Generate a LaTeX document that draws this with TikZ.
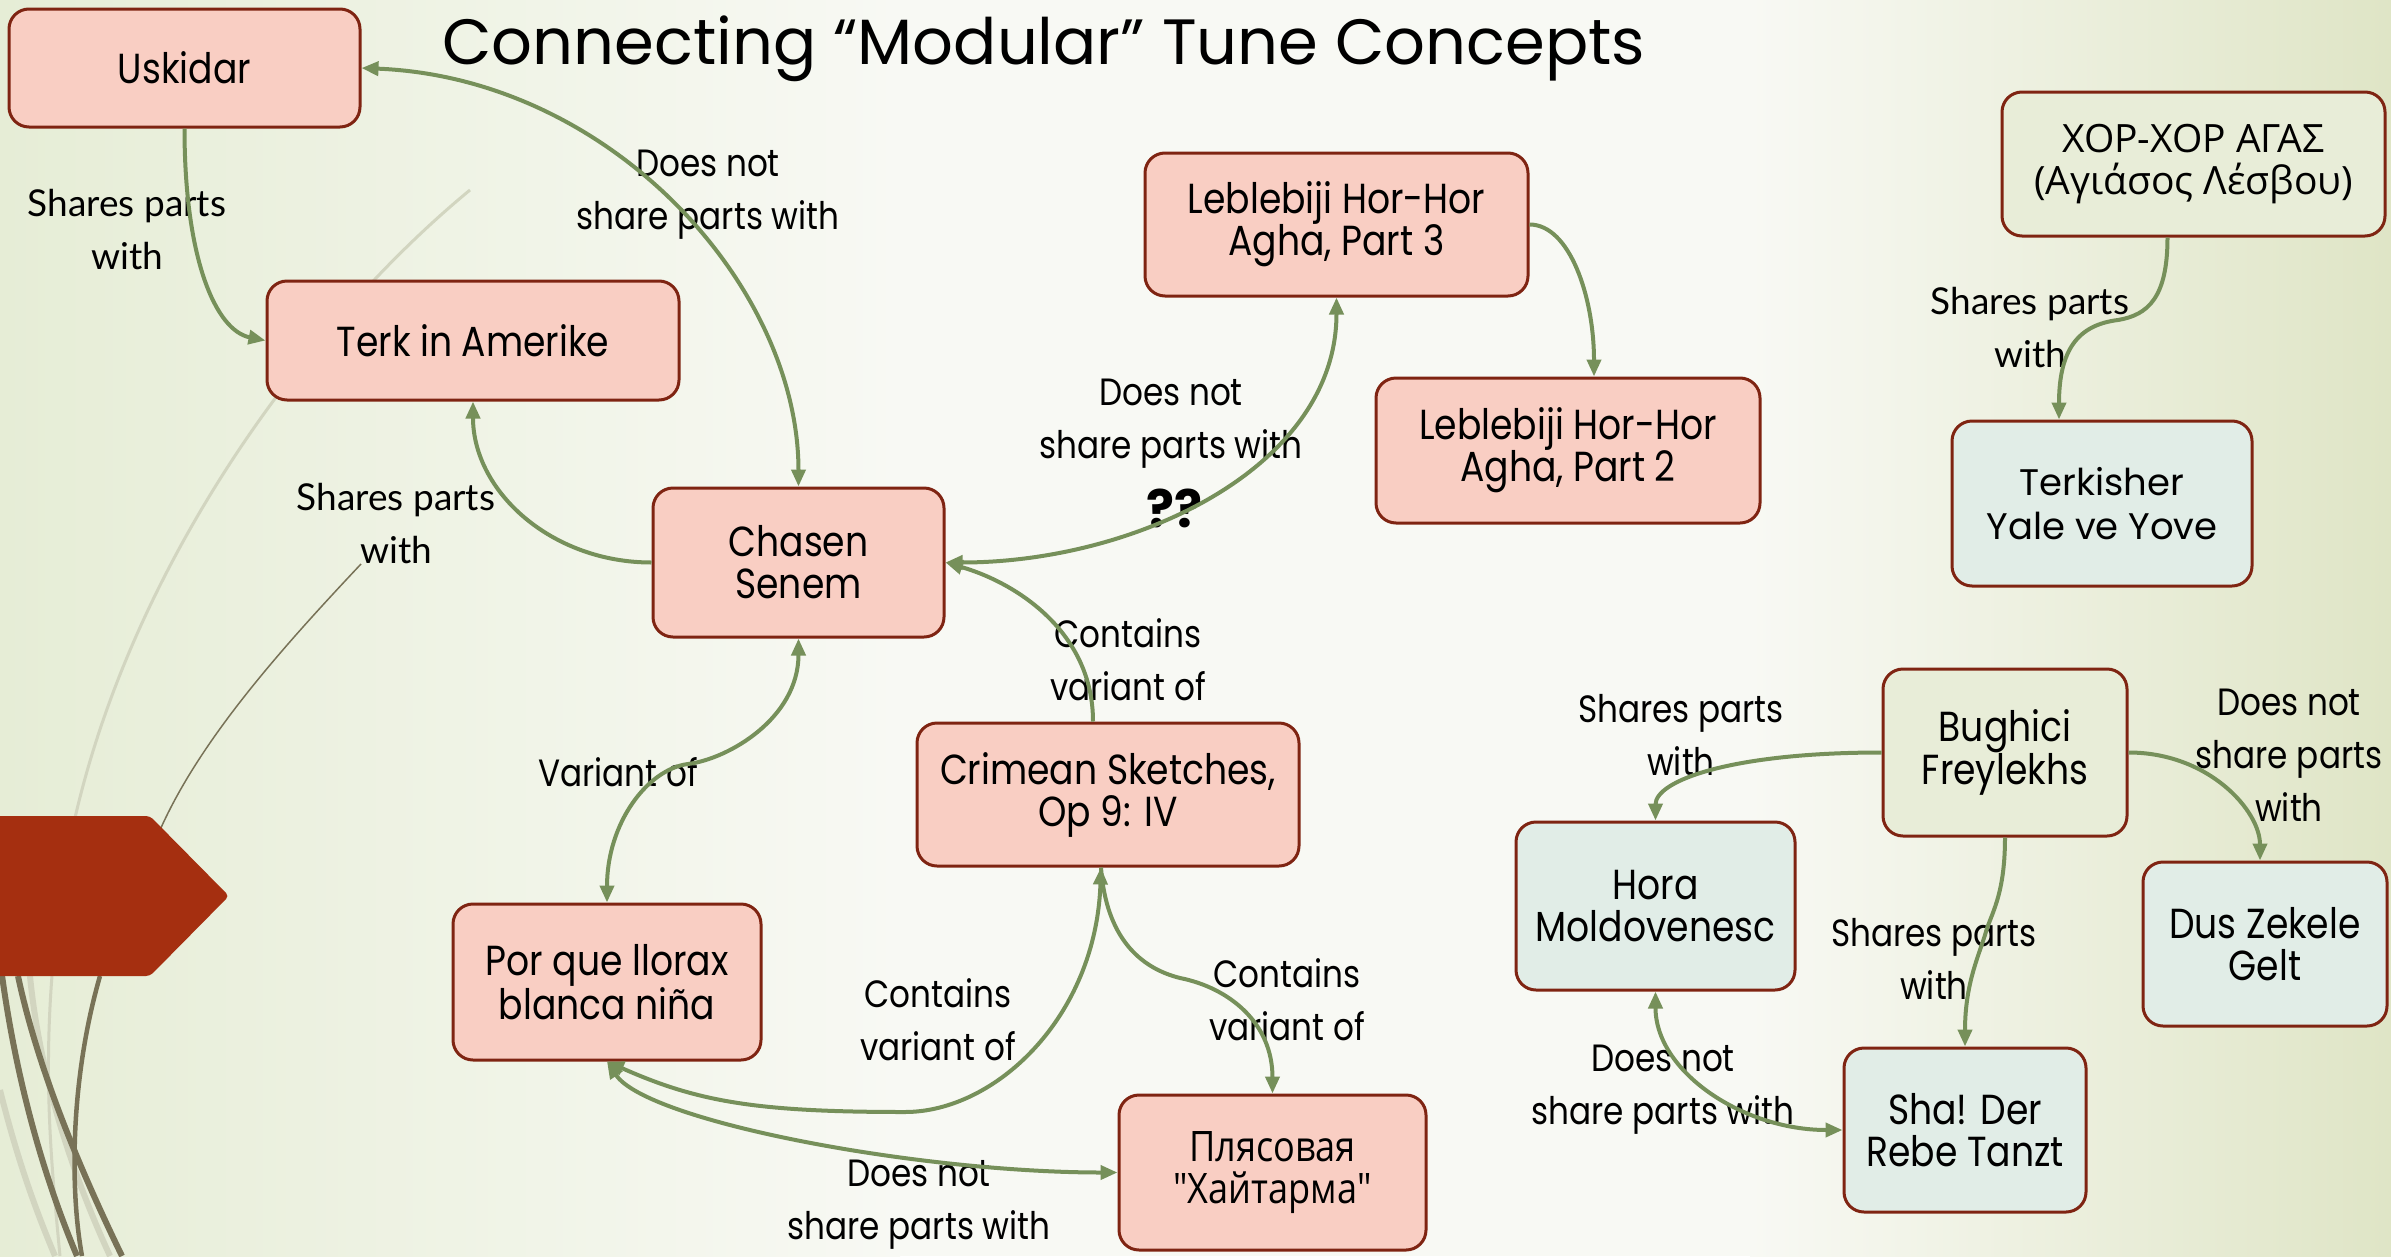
\documentclass[tikz,border=0pt]{standalone}
\usepackage{fontspec}
\setmainfont{Poppins}
\newfontfamily\tcfont{Poppins}[FakeStretch=0.86]
\newfontfamily\gsfont{Lato}
\newfontfamily\grfont{Open Sans}
\newfontfamily\cyfont{Open Sans}[FakeStretch=0.86]
\usetikzlibrary{arrows.meta}

\definecolor{bgside}{HTML}{E6EDD6}
\definecolor{bgmid}{HTML}{F8F9F4}
\definecolor{bgright}{HTML}{DFE5C6}
\definecolor{pinkfill}{HTML}{F9CEC3}
\definecolor{boxline}{HTML}{7F2412}
\definecolor{bluefill}{HTML}{E1EDE7}
\definecolor{palefill}{HTML}{E8EDD8}
\definecolor{arrowc}{HTML}{76905A}
\definecolor{tabred}{HTML}{A52F10}
\definecolor{swirl}{HTML}{787257}
\definecolor{swirllight}{HTML}{D2D5C0}

\tikzset{
  box/.style={rectangle, rounded corners=20pt, draw=boxline, line width=3pt,
    align=center, inner sep=0pt, font=\tcfont\fontsize{42}{42}\selectfont},
  pinkbox/.style={box, fill=pinkfill},
  bluebox/.style={box, fill=bluefill},
  palebox/.style={box, fill=palefill},
  lab/.style={align=center, inner sep=0pt, font=\tcfont\fontsize{38}{53}\selectfont},
  glab/.style={align=center, inner sep=0pt, font=\gsfont\fontsize{37}{53}\selectfont},
  conn/.style={draw=arrowc, line width=4pt},
  arr/.style={-{Triangle[length=17pt,width=14pt]}},
  arrboth/.style={{Triangle[length=17pt,width=14pt]}-{Triangle[length=17pt,width=14pt]}},
}

\begin{document}
\begin{tikzpicture}[x=1pt,y=-1pt]
\useasboundingbox (0,0) rectangle (2391,1256);

% background wash: green at both sides, nearly white in the middle
\fill[bgmid] (0,0) rectangle (2391,1256);
\fill[left color=bgside, right color=bgmid] (0,0) rectangle (900,1256);
\fill[left color=bgmid, right color=bgright] (1750,0) rectangle (2391,1256);

% swirl lines on the left edge
\draw[swirllight, line width=3pt] (470,190) .. controls (300,330) and (100,600) .. (60,900)
  .. controls (40,1050) and (50,1150) .. (60,1256);
\draw[swirllight, line width=6pt] (0,1090) .. controls (20,1170) and (40,1220) .. (55,1256);
\draw[swirllight, line width=6pt] (30,976) .. controls (40,1080) and (75,1180) .. (110,1256);
\draw[swirl, line width=1.5pt] (361,564) .. controls (280,650) and (200,740) .. (160,830);
\draw[swirl, line width=4.5pt] (100,976) .. controls (70,1080) and (70,1190) .. (82,1256);
\draw[swirl, line width=6pt] (0,960) .. controls (15,1080) and (45,1180) .. (77,1256);
\draw[swirl, line width=6pt] (18,976) .. controls (40,1080) and (90,1190) .. (122,1256);

% red tab
\fill[tabred, rounded corners=4pt] (-10,816) -- (150,816) -- (229,896) -- (150,976) -- (-10,976) -- cycle;

% title
\node[anchor=base west, inner sep=0pt, font=\fontsize{64}{70}\selectfont] (title) at (442,64)
  {Connecting “Modular” Tune Concepts};

% labels
\node[glab] (l1) at (127,230) {Shares parts\\with};
\node[lab] (l2) at (708,195) {Does not\\share parts with};
\node[glab] (l3) at (396,524) {Shares parts\\with};
\node[lab] (l4) at (1171,424) {Does not\\share parts with};
\node[inner sep=0pt, font=\fontsize{52}{56}\selectfont\bfseries] (qq) at (1174,508) {??};
\node[lab] (l5) at (1128,660) {Contains\\variant of};
\node[lab] (l6) at (618,772) {Variant of};
\node[lab] (l7) at (938,1020) {Contains\\variant of};
\node[lab] (l8) at (1287,1000) {Contains\\variant of};
\node[lab] (l9) at (919,1205) {Does not\\share parts with};
\node[glab] (l10) at (2030,328) {Shares parts\\with};
\node[lab] (l11) at (1681,735) {Shares parts\\with};
\node[lab] (l12) at (2289,755) {Does not\\share parts\\with};
\node[lab] (l13) at (1934,959) {Shares parts\\with};
\node[lab] (l14) at (1663,1090) {Does not\\share parts with};

% tune boxes
\node[pinkbox, minimum width=351pt, minimum height=118pt] (usk) at (184.5,68) {Uskidar};
\node[pinkbox, minimum width=412pt, minimum height=119pt] (terk) at (473,340.5) {Terk in Amerike};
\node[pinkbox, minimum width=291pt, minimum height=149pt] (chasen) at (798.5,562.5) {Chasen\\Senem};
\node[pinkbox, minimum width=383pt, minimum height=143pt] (leb3) at (1336.5,224.5) {Leblebiji Hor-Hor\\Agha, Part 3};
\node[pinkbox, minimum width=384pt, minimum height=145pt] (leb2) at (1568,450.5) {Leblebiji Hor-Hor\\Agha, Part 2};
\node[palebox, minimum width=383pt, minimum height=144pt, font=\grfont\fontsize{39}{42}\selectfont] (xor) at (2193.5,164) {ΧΟΡ-ΧΟΡ ΑΓΑΣ\\(Αγιάσος Λέσβου)};
\node[bluebox, minimum width=300pt, minimum height=165pt, font=\fontsize{37}{44}\selectfont] (terkisher) at (2102,503.5) {Terkisher\\Yale ve Yove};
\node[pinkbox, minimum width=382pt, minimum height=143pt] (crimean) at (1108,794.5) {Crimean Sketches,\\Op 9: IV};
\node[pinkbox, minimum width=308pt, minimum height=156pt] (porque) at (607,982) {Por que llorax\\blanca niña};
\node[pinkbox, minimum width=307pt, minimum height=155pt, font=\cyfont\fontsize{42}{42}\selectfont] (plyas) at (1272.5,1172.5) {Плясовая\\"Хайтарма"};
\node[palebox, minimum width=244pt, minimum height=167pt] (bughici) at (2005,752.5) {Bughici\\Freylekhs};
\node[bluebox, minimum width=279pt, minimum height=168pt] (hora) at (1655.5,906) {Hora\\Moldovenesc};
\node[bluebox, minimum width=244pt, minimum height=164pt] (dus) at (2265,944) {Dus Zekele\\Gelt};
\node[bluebox, minimum width=242pt, minimum height=164pt] (sha) at (1965,1130) {Sha! Der\\Rebe Tanzt};

% connectors
\draw[conn, arr] (usk.south) .. controls +(0,130) and +(-50,-10) .. (terk.west);
\draw[conn, arrboth] (usk.east) .. controls +(250,10) and +(0,-200) .. (chasen.north);
\draw[conn, arr] (chasen.west) .. controls +(-100,0) and +(0,90) .. (terk.south);
\draw[conn, arrboth] (chasen.east) .. controls +(190,0) and +(0,170) .. (leb3.south);
\draw[conn, arr] (leb3.east) .. controls +(40,0) and +(0,-80) .. ([xshift=26pt]leb2.north);
\draw[conn, arr] ([xshift=-15pt]crimean.north) .. controls +(0,-90) and +(70,20) .. (chasen.east);

\coordinate (k7) at (688,764);
\draw[conn, arrboth] (chasen.south) .. controls +(0,80) and +(40,-5) .. (k7)
  .. controls +(-40,5) and +(0,-80) .. (porque.north);

\coordinate (k8) at (905,1112);
\draw[conn, arrboth] ([xshift=-7pt]crimean.south) .. controls +(-5,150) and +(90,0) .. (k8)
  .. controls +(-150,0) and +(90,40) .. (porque.south);
\draw[conn, arrboth] (porque.south) .. controls +(40,60) and +(-200,0) .. (plyas.west);

\coordinate (k10) at (1180,978);
\draw[conn, arr] ([xshift=-7pt]crimean.south) .. controls +(5,70) and +(-40,-10) .. (k10)
  .. controls +(50,10) and +(0,-70) .. (plyas.north);

\coordinate (k11) at (2118,320);
\draw[conn, arr] ([xshift=-26pt]xor.south) .. controls +(0,60) and +(30,-5) .. (k11)
  .. controls +(-40,5) and +(0,-70) .. ([xshift=-43pt]terkisher.north);

\draw[conn, arr] (bughici.west) .. controls +(-150,0) and +(0,-40) .. (hora.north);
\draw[conn, arr] (bughici.east) .. controls +(80,0) and +(0,-50) .. ([xshift=-5pt]dus.north);

\coordinate (k14) at (1985,935);
\draw[conn, arr] (bughici.south) .. controls +(0,60) and +(5,-20) .. (k14)
  .. controls +(-8,25) and +(0,-60) .. (sha.north);
\draw[conn, arrboth] (hora.south) .. controls +(0,80) and +(-100,0) .. (sha.west);
\end{tikzpicture}
\end{document}
